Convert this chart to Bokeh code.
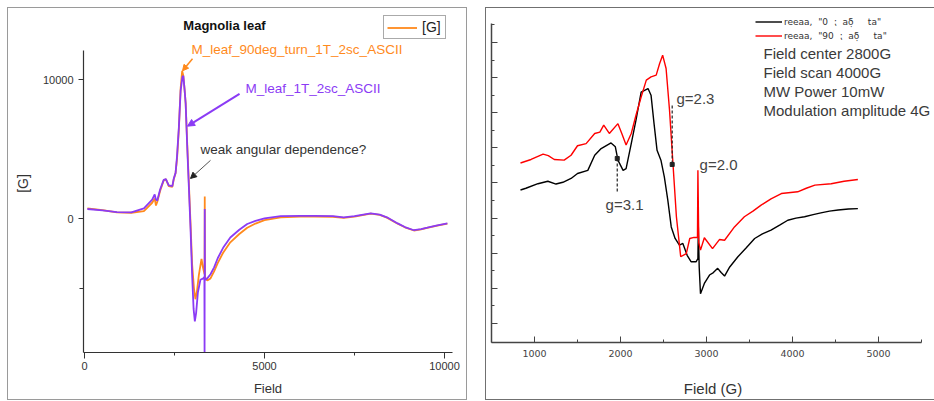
from bokeh.plotting import figure
from bokeh.layouts import row
from bokeh.models import (Range1d, FixedTicker, Label, Arrow, NormalHead, Legend, LegendItem)
from bokeh.embed import file_html
from bokeh.resources import INLINE

# ---------------- Left panel data (Magnolia leaf) ----------------
purple_field = [80, 500, 900, 1300, 1650, 1880, 1950, 1980, 2020, 2100, 2200, 2260, 2340, 2440,
                2480, 2530, 2570, 2620, 2670, 2720, 2745, 2780, 2810, 2850, 2900, 2945, 2990,
                3030, 3065, 3100, 3150, 3220, 3300, 3330, 3335, 3340, 3345, 3360, 3410, 3500,
                3600, 3700, 3850, 4050, 4300, 4520, 4750, 5000, 5450, 6000, 6400, 6900, 7200,
                7500, 7950, 8200, 8400, 8700, 8900, 9150, 9350, 9520, 9800, 10080]
purple_signal = [700, 600, 470, 460, 750, 1370, 1750, 1400, 1300, 2100, 2800, 2850, 2400, 2350,
                 2900, 3300, 4500, 6540, 9200, 10200, 10300, 9300, 8300, 5400, 2200, -700, -4100,
                 -6500, -7400, -6800, -5300, -4400, -4300, -4200, -9640, 700, -4300, -4400, -4300, -4000,
                 -3500, -2850, -2100, -1350, -800, -380, -150, 20, 190, 200, 200, 180, 100,
                 180, 390, 300, 100, -340, -600, -830, -750, -650, -480, -340]

orange_field = [80, 500, 900, 1300, 1650, 1880, 1950, 1985, 2020, 2100, 2200, 2260, 2340, 2440,
                2480, 2530, 2570, 2620, 2670, 2713, 2745, 2780, 2810, 2850, 2900, 2945, 2990,
                3040, 3080, 3120, 3176, 3250, 3290, 3335, 3340, 3345, 3410, 3500,
                3600, 3700, 3850, 4050, 4300, 4520, 4750, 5000, 5450, 6000, 6400, 6900, 7200,
                7500, 7950, 8200, 8400, 8700, 8900, 9150, 9350, 9520, 9800, 10080]
orange_signal = [750, 620, 450, 430, 550, 1150, 1450, 950, 1200, 2000, 2750, 2850, 2350, 2300,
                 2850, 3300, 4300, 6400, 9400, 10650, 10300, 9300, 8300, 5600, 2500, -300, -3300,
                 -5000, -5800, -5300, -4060, -2900, -3500, -4000, 1600, -4200, -4450, -4300,
                 -3800, -3200, -2450, -1700, -1100, -650, -350, -100, 100, 150, 160, 140, 60,
                 150, 370, 280, 80, -360, -620, -850, -770, -660, -500, -360]

left_xticks = [0, 5000, 10000]
left_xminor = [2500, 7500]
left_yticks = [0, 10000]
left_yminor = [-5000]

# ---------------- Right panel data ----------------
black_field = [837, 900, 1040, 1155, 1250, 1330, 1425, 1500, 1620, 1700, 1775, 1890, 1940, 1970,
               2030, 2065, 2125, 2180, 2240, 2280, 2320, 2355, 2390, 2425, 2470, 2510, 2550, 2590,
               2635, 2685, 2725, 2775, 2820, 2880, 2900, 2905, 2915, 2930, 2975, 3035, 3080, 3130,
               3170, 3210, 3270, 3365, 3460, 3560, 3650, 3750, 3850, 3945, 4040, 4140, 4240, 4330,
               4430, 4530, 4650, 4760]
black_signal = [4.80, 4.85, 4.98, 5.05, 4.97, 5.02, 5.13, 5.27, 5.36, 5.79, 5.98, 6.14, 6.03, 5.65,
                5.36, 5.41, 6.12, 6.79, 7.59, 7.64, 7.69, 7.50, 6.69, 5.93, 5.65, 5.17, 4.51, 3.75,
                3.42, 3.23, 3.28, 2.94, 2.76, 2.76, 2.85, 3.75, 2.60, 1.85, 2.14, 2.38, 2.45, 2.57,
                2.45, 2.35, 2.61, 2.90, 3.15, 3.42, 3.55, 3.66, 3.80, 3.94, 4.00, 4.04, 4.10, 4.15,
                4.20, 4.23, 4.26, 4.27]

red_field = [837, 960, 1100, 1160, 1230, 1345, 1425, 1500, 1600, 1700, 1760, 1805, 1870, 1970,
             2015, 2065, 2125, 2180, 2240, 2300, 2355, 2415, 2455, 2490, 2530, 2570, 2610, 2650,
             2700, 2765, 2805, 2855, 2895, 2900, 2910, 2930, 2975, 3070, 3150, 3210, 3325, 3440,
             3540, 3635, 3750, 3870, 4060, 4160, 4260, 4450, 4600, 4760]
red_signal = [5.57, 5.67, 5.82, 5.78, 5.67, 5.65, 5.79, 6.06, 6.12, 6.41, 6.45, 6.65, 6.41, 6.69,
              6.41, 6.08, 6.41, 6.93, 7.45, 7.93, 8.02, 8.07, 8.40, 8.64, 8.26, 7.07, 5.55, 4.04,
              2.90, 2.99, 3.42, 3.45, 3.45, 5.36, 3.30, 3.09, 3.44, 3.13, 3.39, 3.37, 3.75, 4.04,
              4.20, 4.37, 4.55, 4.70, 4.75, 4.85, 4.94, 4.98, 5.05, 5.10]

right_xticks = [1000, 2000, 3000, 4000, 5000]
right_xminor = [500, 1500, 2500, 3500, 4500, 5500]
right_yticks = [1, 2, 3, 4, 5, 6, 7, 8, 9]
right_yminor = [1.5, 2.5, 3.5, 4.5, 5.5, 6.5, 7.5, 8.5, 9.5]

legend_labels = ['reeaa,  "0  \u204f  a\u03b4\u0323     ta"', 'reeaa,  "90  \u204f  a\u03b4\u0323     ta"']
info_lines = ["Field center 2800G", "Field scan 4000G", "MW  Power 10mW", "Modulation amplitude 4G"]

ORANGE = "#FF8A1C"
PURPLE = "#8B3BF5"
FONT = "Liberation Sans"

# ================= Left figure =================
left = figure(width=458, height=391, x_range=Range1d(-28, 10222), y_range=Range1d(-9638, 14710),
              output_backend="svg", toolbar_location=None, frame_align=False,
              min_border_left=75, min_border_right=14, min_border_top=6, min_border_bottom=47,
              outline_line_color=None, margin=(8, 0, 2, 8),
              styles={"outline": "1px solid #9a9a9a"})
left.xgrid.visible = False
left.ygrid.visible = False

r_orange = left.line(orange_field, orange_signal, line_color=ORANGE, line_width=1.8)
r_purple = left.line(purple_field, purple_signal, line_color=PURPLE, line_width=1.8)

for ax in (left.xaxis[0], left.yaxis[0]):
    ax.axis_line_color = "#333333"
    ax.axis_line_width = 1.2
    ax.major_tick_line_color = "#333333"
    ax.minor_tick_line_color = "#333333"
    ax.major_tick_in = 0
    ax.minor_tick_in = 0
    ax.major_label_text_font = FONT
    ax.major_label_text_font_size = "11px"
    ax.major_label_text_color = "#333333"
    ax.major_label_text_line_height = 1.0
    ax.axis_label_text_font = FONT
    ax.axis_label_text_font_style = "normal"
    ax.axis_label_text_color = "#333333"
    ax.axis_label_text_line_height = 1.0

left.xaxis.axis_label_text_font_size = "13px"
left.yaxis.axis_label_text_font_size = "14px"
left.xaxis.ticker = FixedTicker(ticks=left_xticks, minor_ticks=left_xminor)
left.yaxis.ticker = FixedTicker(ticks=left_yticks, minor_ticks=left_yminor)
left.xaxis.bounds = (-28, 10222)
left.yaxis.bounds = (-9638, 12101)
left.xaxis.major_tick_out = 6
left.xaxis.minor_tick_out = 3
left.yaxis.major_tick_out = 5
left.yaxis.minor_tick_out = 4
left.xaxis.major_label_standoff = 3
left.yaxis.major_label_standoff = 5
left.xaxis.axis_label = "Field"
left.yaxis.axis_label = "[G]"
left.xaxis.axis_label_standoff = 8
left.yaxis.axis_label_standoff = 9

left.add_layout(Label(x=3889, y=13913, text="Magnolia leaf", text_font=FONT, text_font_style="bold",
                      text_font_size="13px", text_align="center", text_baseline="middle",
                      text_color="#111111"))
left.add_layout(Label(x=2972, y=12174, text="M_leaf_90deg_turn_1T_2sc_ASCII", text_font=FONT,
                      text_font_size="13.5px", text_baseline="middle", text_color=ORANGE))
left.add_layout(Label(x=4472, y=9348, text="M_leaf_1T_2sc_ASCII", text_font=FONT,
                      text_font_size="13.5px", text_baseline="middle", text_color=PURPLE))
left.add_layout(Label(x=3222, y=5000, text="weak angular dependence?", text_font=FONT,
                      text_font_size="13.5px", text_baseline="middle", text_color="#333333"))

left.add_layout(Arrow(x_start=3000, y_start=11522, x_end=2722, y_end=10652, line_color=ORANGE,
                      line_width=1.5, end=NormalHead(size=6, fill_color=ORANGE, line_color=ORANGE)))
left.add_layout(Arrow(x_start=4306, y_start=8986, x_end=2861, y_end=6667, line_color=PURPLE,
                      line_width=2, end=NormalHead(size=7, fill_color=PURPLE, line_color=PURPLE)))
left.add_layout(Arrow(x_start=3500, y_start=4203, x_end=2944, y_end=2899, line_color="#555555",
                      line_width=1, end=NormalHead(size=6, fill_color="#222222", line_color="#222222")))

left_legend = Legend(items=[LegendItem(label="[G]", renderers=[r_orange])], location=(300, 313),
                     padding=3, margin=0, glyph_width=30, glyph_height=13, label_height=13,
                     label_standoff=5, border_line_color="#555555", border_line_width=1,
                     label_text_font=FONT, label_text_font_size="14px", label_text_color="#222222",
                     background_fill_color="white")
left.add_layout(left_legend)

# ================= Right figure =================
right = figure(width=448, height=391, x_range=Range1d(500, 5651), y_range=Range1d(0.459, 9.911),
               output_backend="svg", toolbar_location=None, frame_align=False,
               min_border_left=5, min_border_right=0, min_border_top=2, min_border_bottom=57,
               outline_line_color=None, margin=(8, 0, 2, 20),
               styles={"outline": "1px solid #707070"})
right.xgrid.visible = False
right.ygrid.visible = False

r_black = right.line(black_field, black_signal, line_color="black", line_width=1.4)
r_red = right.line(red_field, red_signal, line_color="#FF0000", line_width=1.4)

for ax in (right.xaxis[0], right.yaxis[0]):
    ax.axis_line_color = "#444444"
    ax.axis_line_width = 1.5
    ax.major_tick_line_color = "#444444"
    ax.minor_tick_line_color = "#444444"
    ax.major_tick_in = 6
    ax.major_tick_out = 0
    ax.minor_tick_in = 3
    ax.minor_tick_out = 0

right.xaxis.ticker = FixedTicker(ticks=right_xticks, minor_ticks=right_xminor)
right.yaxis.ticker = FixedTicker(ticks=right_yticks, minor_ticks=right_yminor)
right.xaxis.bounds = (500, 5500)
right.yaxis.bounds = (0.459, 9.541)
right.xaxis.major_label_text_font = "DejaVu Sans"
right.xaxis.major_label_text_font_size = "9.5px"
right.xaxis.major_label_text_color = "#444444"
right.xaxis.major_label_standoff = 7
right.xaxis.axis_label = "Field (G)"
right.xaxis.axis_label_text_font = FONT
right.xaxis.axis_label_text_font_style = "normal"
right.xaxis.axis_label_text_font_size = "15px"
right.xaxis.axis_label_text_color = "#333333"
right.xaxis.axis_label_standoff = 20
right.yaxis.major_label_overrides = {t: "" for t in right_yticks}
right.yaxis.major_label_standoff = 0

# g-value marker lines (dashed) and end dots
right.segment(x0=[2601, 1962], y0=[7.206, 5.698], x1=[2601, 1962], y1=[5.527, 4.73],
              line_color="#222222", line_width=1.2, line_dash="3 2")
right.scatter(x=[2601, 1962], y=[5.527, 5.698], marker="square", size=4, color="#222222")

for txt, gx, gy in (("g=2.3", 2651, 7.406), ("g=2.0", 2919, 5.527), ("g=3.1", 1826, 4.388)):
    right.add_layout(Label(x=gx, y=gy, text=txt, text_font=FONT, text_font_size="15px",
                           text_baseline="middle", text_color="#444444"))

for i, line_txt in enumerate(info_lines):
    right.add_layout(Label(x=3663, y=8.687 - i * 0.541, text=line_txt, text_font=FONT,
                           text_font_size="15px", text_baseline="middle", text_color="#3a3a3a"))

right_legend = Legend(items=[LegendItem(label=legend_labels[0], renderers=[r_black]),
                             LegendItem(label=legend_labels[1], renderers=[r_red])],
                      location=(264, 300), padding=0, margin=0, glyph_width=27, glyph_height=13,
                      label_height=13, spacing=1, label_standoff=2, border_line_color=None,
                      background_fill_alpha=0, label_text_font="DejaVu Sans",
                      label_text_font_size="9px", label_text_color="#333333")
right.add_layout(right_legend)

layout = row(left, right, spacing=0)
open("out.html", "w").write(file_html(layout, INLINE))
